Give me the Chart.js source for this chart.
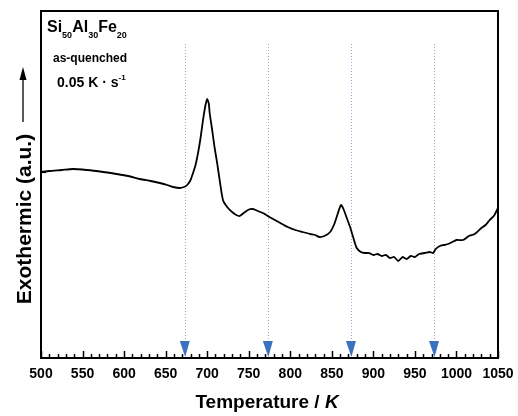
<!DOCTYPE html>
<html><head><meta charset="utf-8">
<script src="https://cdn.jsdelivr.net/npm/chart.js@4.4.1/dist/chart.umd.min.js"></script>
<style>html,body{margin:0;padding:0;background:#fff}#wrap{width:518px;height:416px}</style>
</head><body><div id="wrap"><canvas id="c" width="518" height="416"></canvas></div>
<script>
// Temperature (K)
const temperatures = [500,510,525,538,555,575,591,605,619,632,643,652,659,667,672,676,680,683,686,689,692,695,698,700,702,703,706,709,712,715,719,724,730,735,739,744,749,755,761,767,775,788,797,806,815,824,830,835,841,848,853,857,861,864,868,872,876,880,885,890,895,900,905,910,915,920,925,930,935,940,945,950,955,962,968,972,975,980,985,990,995,1000,1008,1015,1022,1030,1035,1040,1045,1050];
// Heat-flow signal (arbitrary units, exothermic up)
const signal = [186,187,188,189,188,186,184,182,179,177,175,173,171,170,171,173,178,185,193,205,220,238,253,259,254,245,228,210,195,178,158,151,146,143,142,145,148,149,147,145,141,135,131,128,126,124,123,121,122,126,134,144,153,149,140,131,120,110,106,105,105,103,104,102,103,100,101,97,101,99,102,101,104,105,106,105,109,112,113,114,116,118,118,122,124,130,133,138,142,150];
// Marked temperatures (arrows)
const markTemps = [673,773,873,973];
const xTickValues = [500,550,600,650,700,750,800,850,900,950,1000,1050];
const xTickLabels = ['500','550','600','650','700','750','800','850','900','950','1000','1050'];
const FONT = "'Liberation Sans', Arial, sans-serif";

const decor = {
  id:'decor',
  beforeDatasetsDraw(chart){
    const {ctx, scales:{x}} = chart;
    ctx.save();
    ctx.strokeStyle = '#8fb0dc'; ctx.lineWidth = 1; ctx.setLineDash([1,2]);
    markTemps.forEach(t=>{const px=Math.round(x.getPixelForValue(t))+0.5;ctx.beginPath();ctx.moveTo(px,44);ctx.lineTo(px,342);ctx.stroke();});
    ctx.restore();
  },
  afterDatasetsDraw(chart){
    const {ctx, chartArea:a, scales:{x,y}} = chart;
    ctx.save();
    // arrows
    ctx.fillStyle = '#3a72c0';
    markTemps.forEach(t=>{const px=x.getPixelForValue(t);ctx.beginPath();ctx.moveTo(px-5,341);ctx.lineTo(px+5,341);ctx.lineTo(px+0.5,357);ctx.closePath();ctx.fill();});
    // frame
    ctx.strokeStyle='#000'; ctx.lineWidth=2;
    ctx.strokeRect(a.left, a.top, a.right-a.left, a.bottom-a.top);
    // small left tick at curve start
    ctx.lineWidth=1.2; const yt=Math.round(y.getPixelForValue(signal[0]))+0.5;
    ctx.beginPath(); ctx.moveTo(a.left,yt); ctx.lineTo(a.left+5,yt); ctx.stroke();
    // inward ticks
    ctx.lineWidth=1.5;
    for(let t=500;t<=1050;t+=10){
      const px=Math.round(x.getPixelForValue(t))+0.5;
      const len = (t%50===0)?7:4;
      ctx.beginPath();ctx.moveTo(px,a.bottom);ctx.lineTo(px,a.bottom-len);ctx.stroke();
    }
    // tick labels
    ctx.fillStyle='#000'; ctx.textAlign='center'; ctx.textBaseline='alphabetic';
    ctx.font='bold 14px '+FONT;
    xTickValues.forEach((v,i)=>ctx.fillText(xTickLabels[i], x.getPixelForValue(v), 378));
    // x title
    const s1='Temperature / ';
    ctx.font='bold 19px '+FONT; const w1=ctx.measureText(s1).width;
    ctx.font='italic bold 19px '+FONT; const w2=ctx.measureText('K').width;
    const cx=267; let sx=cx-(w1+w2)/2;
    ctx.textAlign='left';
    ctx.font='bold 19px '+FONT; ctx.fillText(s1,sx,408);
    ctx.font='italic bold 19px '+FONT; ctx.fillText('K',sx+w1,408);
    // y title
    ctx.save(); ctx.translate(31,219); ctx.rotate(-Math.PI/2);
    ctx.font='bold 21px '+FONT; ctx.textAlign='center'; ctx.fillText('Exothermic (a.u.)',0,0);
    ctx.restore();
    // y arrow
    ctx.lineWidth=1.3; ctx.beginPath(); ctx.moveTo(23,122); ctx.lineTo(23,78); ctx.stroke();
    ctx.beginPath(); ctx.moveTo(23,67); ctx.lineTo(19.5,80); ctx.lineTo(26.5,80); ctx.closePath(); ctx.fill();
    // annotations
    ctx.textAlign='left';
    let px=47;
    const parts=[['Si',0],['50',1],['Al',0],['30',1],['Fe',0],['20',1]];
    parts.forEach(([s,sub])=>{ctx.font= sub?('bold 9px '+FONT):('bold 16px '+FONT); ctx.fillText(s,px,sub?38:32); px+=ctx.measureText(s).width;});
    ctx.font='bold 12px '+FONT; ctx.fillText('as-quenched',53,62);
    ctx.font='bold 14px '+FONT; const s3='0.05 K · s'; ctx.fillText(s3,57,87);
    const w3=ctx.measureText(s3).width; ctx.font='bold 8px '+FONT; ctx.fillText('-1',57+w3,80);
    ctx.restore();
  }
};

new Chart(document.getElementById('c'),{
  type:'line',
  data:{datasets:[{data:temperatures.map((t,i)=>({x:t,y:signal[i]})),borderColor:'#000',borderWidth:1.8,pointRadius:0,tension:0.2,fill:false}]},
  options:{
    responsive:false,animation:false,devicePixelRatio:1,
    layout:{padding:{left:41,right:20,top:11,bottom:58}},
    plugins:{legend:{display:false},tooltip:{enabled:false}},
    scales:{
      x:{type:'linear',min:500,max:1050,display:false},
      y:{display:false,min:0,max:347}
    }
  },
  plugins:[decor]
});
</script></body></html>
